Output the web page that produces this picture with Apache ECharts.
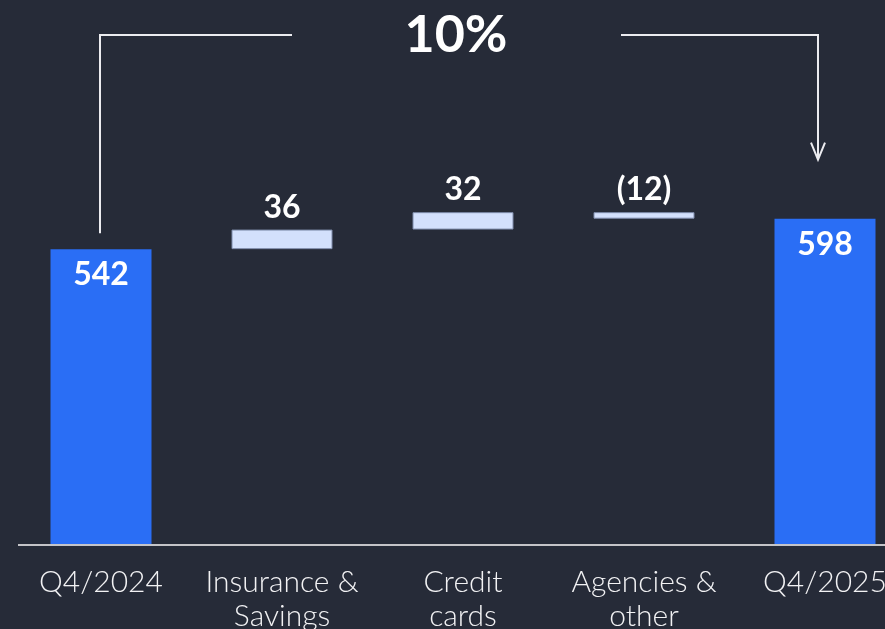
<!DOCTYPE html>
<html>
<head>
  <meta charset="utf-8">
  <title>waterfall</title>
  <script src="https://cdn.jsdelivr.net/npm/echarts@6/dist/echarts.min.js"></script>
  <style>
    html, body { margin: 0; padding: 0; background: #262b38; }
    #main { width: 885px; height: 629px; }
  </style>
</head>
<body>
  <div id="main"></div>
  <script>
    var categories = ['Q4/2024', 'Insurance &\nSavings', 'Credit\ncards', 'Agencies &\nother', 'Q4/2025'];
    var startValue = 542;
    var changes = [36, 32, -12];
    var endValue = 598;
    var growthLabel = '10%';

    // build the invisible base + visible bar for the waterfall
    var baseData = [0];
    var barData = [startValue];
    var labels = [String(startValue)];
    var running = startValue;
    for (var i = 0; i < changes.length; i++) {
      var c = changes[i];
      baseData.push(c >= 0 ? running : running + c);
      barData.push(Math.abs(c));
      labels.push(c >= 0 ? String(c) : '(' + Math.abs(c) + ')');
      running += c;
    }
    baseData.push(0);
    barData.push(endValue);
    labels.push(String(endValue));

    var blue = '#2a6ef5';
    var light = '#d3e0fc';

    var barItems = barData.map(function (v, idx) {
      var total = idx === 0 || idx === barData.length - 1;
      return {
        value: v,
        itemStyle: total ? { color: blue } : { color: light, borderColor: '#7f8cab', borderWidth: 1 },
        label: {
          show: true,
          position: total ? 'insideTop' : 'top',
          distance: total ? 10 : 6,
          formatter: labels[idx],
          color: '#ffffff',
          fontFamily: 'Lato',
          fontWeight: 'bold',
          fontSize: 32
        }
      };
    });

    var chart = echarts.init(document.getElementById('main'));
    chart.setOption({
      backgroundColor: '#262b38',
      animation: false,
      grid: { left: 10.5, width: 905, top: 0, bottom: 85, outerBoundsMode: 'none', containLabel: false },
      xAxis: {
        type: 'category',
        data: categories,
        axisLine: { show: false },
        axisTick: { show: false },
        axisLabel: {
          color: '#f2f2f4',
          fontFamily: 'Lato',
          fontWeight: 300,
          fontSize: 30,
          lineHeight: 34,
          margin: 21,
          interval: 0
        }
      },
      yAxis: {
        type: 'value',
        min: 0,
        max: 1000,
        show: false,
        splitLine: { show: false }
      },
      series: [
        {
          type: 'bar',
          stack: 'w',
          data: baseData,
          barWidth: 101,
          itemStyle: { color: 'transparent' },
          silent: true
        },
        {
          type: 'bar',
          stack: 'w',
          data: barItems,
          barWidth: 101
        }
      ]
    });

    // growth annotation: bracket from the first total to the last total
    var p0 = chart.convertToPixel({ seriesIndex: 1 }, [0, startValue]);
    var p1 = chart.convertToPixel({ seriesIndex: 1 }, [categories.length - 1, endValue]);
    var zeroY = chart.convertToPixel({ seriesIndex: 1 }, [0, 0])[1];
    var topY = 35;
    var lx = p0[0] - 1, rx = p1[0] - 7;
    var lineStyle = { stroke: '#ececf0', lineWidth: 2, fill: null };
    chart.setOption({
      graphic: [
        { type: 'line', shape: { x1: 18, y1: zeroY + 1, x2: 885, y2: zeroY + 1 }, style: { stroke: '#c4c4c8', lineWidth: 2 } },
        { type: 'polyline', shape: { points: [[lx, p0[1] - 16], [lx, topY], [292, topY]] }, style: lineStyle },
        { type: 'polyline', shape: { points: [[621, topY], [rx, topY], [rx, p1[1] - 59]] }, style: lineStyle },
        { type: 'polyline', shape: { points: [[rx - 7, p1[1] - 76], [rx, p1[1] - 59], [rx + 7, p1[1] - 76]] }, style: lineStyle },
        {
          type: 'text',
          x: (lx + rx) / 2 - 3,
          y: topY,
          style: {
            text: growthLabel,
            fill: '#ffffff',
            font: 'bold 52px Lato',
            align: 'center',
            verticalAlign: 'middle'
          }
        }
      ]
    });
  </script>
</body>
</html>
